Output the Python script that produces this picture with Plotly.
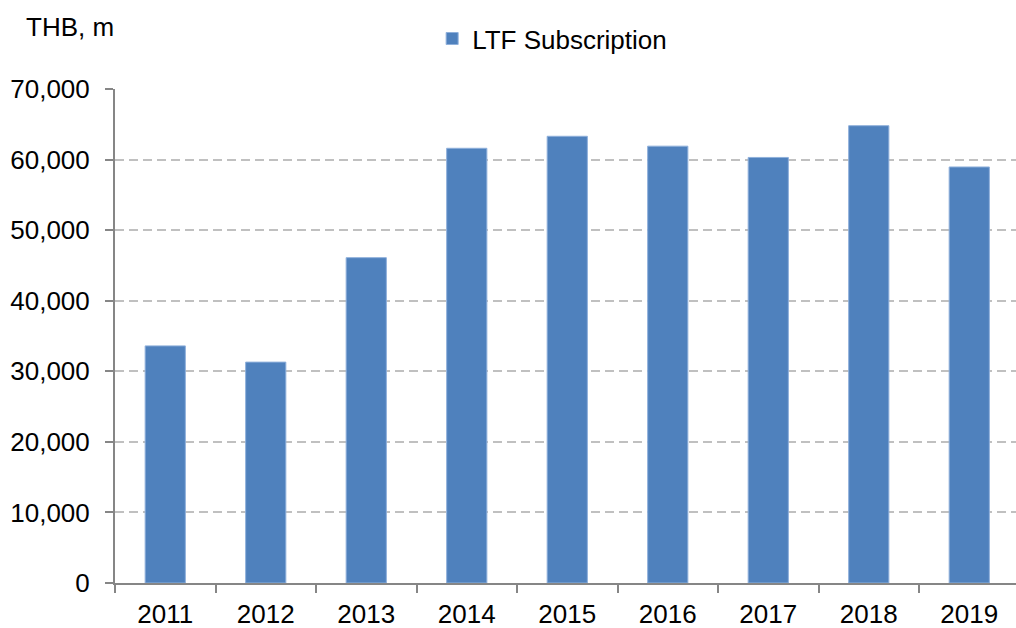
import plotly.graph_objects as go

years = ["2011", "2012", "2013", "2014", "2015", "2016", "2017", "2018", "2019"]
ltf_subscription = [33600, 31300, 46100, 61600, 63300, 61900, 60300, 64800, 58950]
y_ticks = [0, 10000, 20000, 30000, 40000, 50000, 60000, 70000]
y_tick_labels = ["0", "10,000", "20,000", "30,000", "40,000", "50,000", "60,000", "70,000"]

FONT = "Liberation Sans, Arial, sans-serif"

fig = go.Figure()
fig.add_trace(go.Bar(
    x=years, y=ltf_subscription, name="LTF Subscription",
    marker=dict(color="#4f81bd", line=dict(color="#8fb0db", width=1)),
    showlegend=True, hoverinfo="skip",
))

fig.update_layout(
    width=1016, height=628, autosize=False,
    margin=dict(l=115, r=0, t=89, b=45),
    paper_bgcolor="white", plot_bgcolor="white",
    font=dict(family=FONT, size=26, color="black"),
    bargap=0.6,
    showlegend=True,
    legend=dict(orientation="h", x=0.352, xanchor="left", y=1.102, yanchor="middle",
                font=dict(family=FONT, size=26, color="black"),
                bgcolor="rgba(0,0,0,0)", borderwidth=0),
    xaxis=dict(
        type="category", range=[-0.5, 8.465], automargin=False,
        showline=True, linecolor="#868686", linewidth=2,
        ticks="outside", ticklen=8, tickwidth=2, tickcolor="#868686",
        tickson="boundaries", showgrid=False,
        tickfont=dict(family=FONT, size=26, color="black"),
        ticklabelstandoff=7,
    ),
    yaxis=dict(
        range=[0, 70000], tickvals=y_ticks, ticktext=y_tick_labels, automargin=False,
        showline=True, linecolor="#868686", linewidth=2,
        ticks="outside", ticklen=8, tickwidth=2, tickcolor="#868686",
        showgrid=True, gridcolor="#c0c0c0", gridwidth=2, griddash="9px,5px",
        zeroline=False,
        tickfont=dict(family=FONT, size=26, color="black"),
        ticklabelstandoff=10,
    ),
    annotations=[dict(
        text="THB, m", xref="paper", yref="paper",
        x=(24 - 115) / 901, y=(583 - 27) / 494, xanchor="left", yanchor="middle",
        showarrow=False, font=dict(family=FONT, size=26, color="black"),
    )],
)

fig.write_html("out.html", config={"displayModeBar": False},
               post_script="document.body.style.margin='0';document.body.style.overflow='hidden';")
